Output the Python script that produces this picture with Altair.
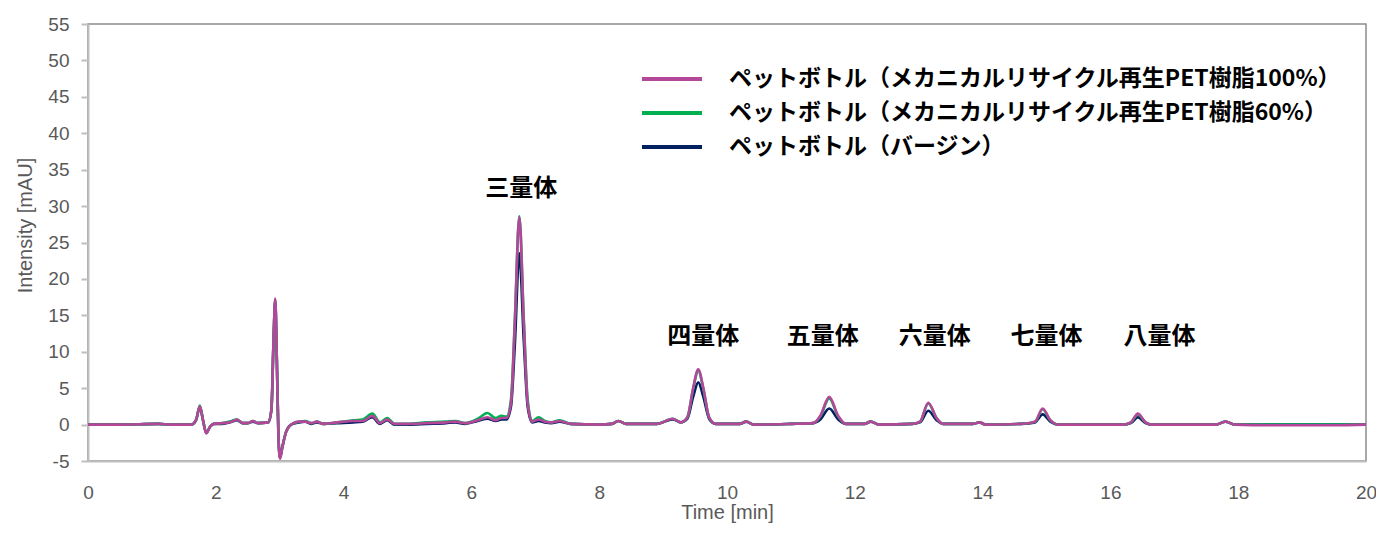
import altair as alt
import pandas as pd

# ---- data ----
times = [0.0, 0.5, 1.1, 1.3, 1.62, 1.69, 1.75, 1.80, 1.85, 1.91, 1.97, 2.1, 2.25, 2.33, 2.42, 2.5, 2.58, 2.66,
         2.82, 2.87, 2.905, 2.93, 2.955, 2.98, 3.005, 3.04, 3.1, 3.18, 3.3, 3.4, 3.5, 3.58, 3.68, 3.9,
         4.15, 4.3, 4.45, 4.57, 4.68, 4.8, 5.0, 5.3, 5.6, 5.75, 5.9, 6.1, 6.25, 6.38, 6.47, 6.55, 6.62,
         6.68, 6.75, 6.82, 6.88, 6.95, 7.05, 7.15, 7.25, 7.38, 7.55, 8.0, 8.2, 8.3, 8.42, 8.9, 9.15,
         9.28, 9.38, 9.47, 9.55, 9.63, 9.72, 9.82, 10.2, 10.3, 10.42, 11.0, 11.35, 11.46, 11.6, 11.74,
         11.86, 12.15, 12.25, 12.38, 12.9, 13.02, 13.15, 13.28, 13.38, 13.85, 13.95, 14.05, 14.6, 14.82,
         14.94, 15.06, 15.18, 16.2, 16.32, 16.43, 16.55, 16.65, 17.65, 17.8, 17.95, 18.5, 19.5, 20.0]

pet100 = [0, 0, 0.1, 0, 0, 0.6, 2.5, 0.6, -1.2, -0.3, 0.1, 0.2, 0.4, 0.7, 0.2, 0.2, 0.5, 0.2,
          0.3, 2.0, 12.0, 17.3, 9.0, -1.5, -4.7, -3.2, -1.0, 0.0, 0.4, 0.4, 0.2, 0.4, 0.1, 0.3,
          0.5, 0.5, 1.2, 0.2, 0.7, 0.1, 0.1, 0.2, 0.3, 0.4, 0.2, 0.6, 1.0, 0.6, 0.9, 0.9, 3.0,
          14.0, 28.5, 14.0, 3.0, 0.4, 0.7, 0.4, 0.3, 0.5, 0.1, 0.0, 0.1, 0.5, 0.1, 0.1, 0.8,
          0.3, 1.0, 5.0, 7.6, 5.0, 1.0, 0.1, 0.1, 0.4, 0.0, 0.1, 0.2, 1.2, 3.8, 1.2,
          0.1, 0.1, 0.4, 0.0, 0.1, 0.4, 3.0, 0.9, 0.1, 0.1, 0.3, 0.0, 0.1, 0.4,
          2.2, 0.6, 0.0, 0.0, 0.3, 1.5, 0.3, 0.0, 0.0, 0.4, 0.0, -0.1, -0.1, 0.0]

pet60 = [0, 0, 0.1, 0, 0, 0.6, 2.6, 0.6, -1.2, -0.3, 0.1, 0.2, 0.5, 0.7, 0.2, 0.2, 0.5, 0.2,
         0.3, 2.0, 12.0, 17.2, 9.0, -1.5, -4.6, -3.2, -1.0, 0.0, 0.4, 0.5, 0.2, 0.4, 0.1, 0.3,
         0.6, 0.7, 1.5, 0.3, 0.9, 0.1, 0.1, 0.3, 0.4, 0.5, 0.2, 0.8, 1.6, 0.9, 1.2, 1.1, 3.5,
         14.5, 28.6, 14.5, 3.5, 0.5, 1.0, 0.5, 0.3, 0.6, 0.1, 0.0, 0.1, 0.5, 0.1, 0.1, 0.8,
         0.3, 1.0, 4.9, 7.4, 4.9, 1.0, 0.1, 0.1, 0.4, 0.0, 0.1, 0.2, 1.1, 3.6, 1.1,
         0.1, 0.1, 0.4, 0.0, 0.1, 0.4, 2.9, 0.9, 0.1, 0.1, 0.3, 0.0, 0.1, 0.4,
         2.1, 0.6, 0.0, 0.0, 0.3, 1.4, 0.3, 0.0, 0.0, 0.4, 0.0, 0.0, 0.0, 0.0]

virgin = [0, 0, 0.1, 0, 0, 0.6, 2.4, 0.6, -1.1, -0.3, 0.1, 0.1, 0.4, 0.6, 0.2, 0.2, 0.4, 0.2,
          0.3, 2.0, 12.0, 17.0, 9.0, -1.5, -4.5, -3.1, -1.0, 0.0, 0.3, 0.4, 0.1, 0.3, 0.1, 0.2,
          0.3, 0.4, 1.0, 0.1, 0.6, 0.0, 0.0, 0.1, 0.2, 0.3, 0.1, 0.5, 0.8, 0.5, 0.7, 0.7, 2.5,
          11.0, 23.5, 11.5, 2.5, 0.3, 0.5, 0.3, 0.2, 0.4, 0.1, 0.0, 0.1, 0.5, 0.1, 0.1, 0.7,
          0.3, 0.8, 3.8, 5.8, 3.8, 0.8, 0.1, 0.1, 0.4, 0.0, 0.1, 0.2, 0.7, 2.2, 0.7,
          0.1, 0.1, 0.4, 0.0, 0.1, 0.3, 1.9, 0.6, 0.1, 0.1, 0.3, 0.0, 0.1, 0.3,
          1.4, 0.4, 0.0, 0.0, 0.2, 1.0, 0.2, 0.0, 0.0, 0.4, 0.0, 0.0, 0.0, 0.0]

series_names = ["ペットボトル（メカニカルリサイクル再生PET樹脂100%）",
                "ペットボトル（メカニカルリサイクル再生PET樹脂60%）",
                "ペットボトル（バージン）"]
series_colors = ["#B5479B", "#00B050", "#002060"]

label_texts = ["三量体", "四量体", "五量体", "六量体", "七量体", "八量体"]
label_x = [6.78, 9.63, 11.5, 13.25, 15.0, 16.77]
label_y = [32.4, 12.0, 12.0, 12.0, 12.0, 12.0]

# ---- build tables ----
rows = []
for name, vals in zip(series_names, [pet100, pet60, virgin]):
    for t, v in zip(times, vals):
        rows.append({"time": t, "value": v, "series": name})
df = pd.DataFrame(rows)
labels_df = pd.DataFrame({"text": label_texts, "time": label_x, "value": label_y})

color_scale = alt.Scale(domain=series_names, range=series_colors)
legend = alt.Legend(
    orient="none", legendX=572, legendY=43, title=None,
    symbolType="M-3,0H3", symbolSize=400, symbolStrokeWidth=4,
    labelFont="Noto Sans CJK JP", labelFontWeight="bold", labelFontSize=23,
    labelColor="black", labelOffset=45, rowPadding=10, padding=0, labelLimit=1000,
)

x_enc = alt.X("time:Q", scale=alt.Scale(domain=[0, 20], nice=False),
              axis=alt.Axis(values=list(range(0, 21, 2)), title="Time [min]", ticks=False,
                            labelExpr="'' + datum.value", labelFlush=False, labelOverlap=False,
                            labelPadding=22, grid=False, titleY=51, titleBaseline="middle"))
y_enc = alt.Y("value:Q", scale=alt.Scale(domain=[-5, 55], nice=False),
              axis=alt.Axis(values=list(range(-5, 56, 5)), title="Intensity [mAU]", tickSize=7,
                            labelExpr="'' + datum.value", labelFlush=False, labelOverlap=False,
                            labelPadding=12, grid=False, titleX=-63, titleY=201,
                            titleAlign="center", titleBaseline="middle", titleAngle=270))

layers = []
for name in reversed(series_names):
    layers.append(
        alt.Chart(df).transform_filter(alt.datum.series == name)
        .mark_line(interpolate="monotone", strokeWidth=2.6)
        .encode(x=x_enc, y=y_enc,
                color=alt.Color("series:N", scale=color_scale, legend=legend))
    )

texts = alt.Chart(labels_df).mark_text(
    font="Noto Sans CJK JP", fontWeight="bold", fontSize=24, color="black",
    align="center", baseline="middle"
).encode(x=x_enc, y=y_enc, text="text:N")

chart = alt.layer(*layers, texts).properties(
    width=1278, height=437,
    padding={"left": 80, "top": 16, "right": 10, "bottom": 64},
    autosize=alt.AutoSizeParams(type="none"),
).configure_view(
    stroke="#8c8c8c", strokeWidth=1.5
).configure_axis(
    domainColor="#bfbfbf", domainWidth=2, tickColor="#bfbfbf", tickWidth=2,
    labelFont="Liberation Sans", labelFontSize=19, labelColor="#595959",
    titleFont="Liberation Sans", titleFontSize=20, titleColor="#595959", titleFontWeight="normal",
    labelOverlap=False,
)

chart.save("out.html", embed_options={"renderer": "svg", "actions": False})
